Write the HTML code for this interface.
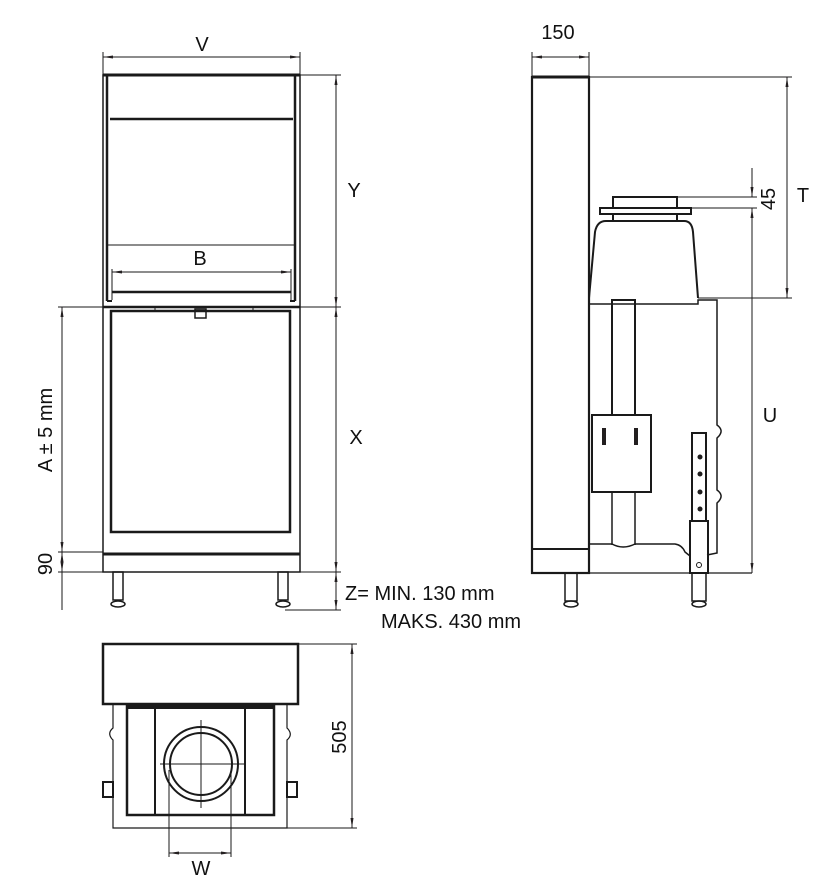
<!DOCTYPE html>
<html><head><meta charset="utf-8"><style>
html,body{margin:0;padding:0;background:#fff;}
svg{display:block;}
text{font-family:"Liberation Sans",sans-serif;fill:#111;}
</style></head><body>
<svg width="825" height="886" viewBox="0 0 825 886" xmlns="http://www.w3.org/2000/svg">
<defs>
<marker id="a" viewBox="0 0 10 6" refX="10" refY="3" markerWidth="10" markerHeight="6" orient="auto-start-reverse" markerUnits="userSpaceOnUse"><path d="M0,1.5 L10,3 L0,4.5z" fill="#231f20"/></marker>
</defs>
<g stroke="#1a1a1a" fill="none" stroke-width="1">
<!-- FRONT VIEW -->
<rect x="103" y="75" width="197" height="497" stroke-width="1.5"/>
<line x1="103" y1="75" x2="300" y2="75" stroke-width="3"/>
<line x1="107" y1="76" x2="107" y2="301" stroke-width="2.5"/>
<line x1="295" y1="76" x2="295" y2="301" stroke-width="2.5"/>
<line x1="107" y1="301" x2="112" y2="301" stroke-width="2"/>
<line x1="290" y1="301" x2="295" y2="301" stroke-width="2"/>
<line x1="110" y1="119" x2="293" y2="119" stroke-width="2.5"/>
<line x1="108" y1="245" x2="294" y2="245" stroke-width="1"/>
<line x1="112" y1="272" x2="291" y2="272" marker-start="url(#a)" marker-end="url(#a)"/>
<line x1="112" y1="269" x2="112" y2="300"/>
<line x1="291" y1="269" x2="291" y2="300"/>
<line x1="112" y1="292" x2="291" y2="292" stroke-width="2.5"/>
<line x1="103" y1="307" x2="300" y2="307" stroke-width="2.5"/>
<line x1="111" y1="311" x2="291" y2="311" stroke-width="1.5"/>
<line x1="155" y1="307" x2="155" y2="311"/>
<line x1="253" y1="307" x2="253" y2="311"/>
<rect x="195" y="309" width="11" height="9" stroke-width="1.5"/>
<rect x="111" y="311" width="179" height="221" stroke-width="2.5"/>
<line x1="103" y1="554" x2="300" y2="554" stroke-width="3"/>
<rect x="113" y="572" width="10" height="28" stroke-width="1.5"/>
<rect x="278" y="572" width="10" height="28" stroke-width="1.5"/>
<ellipse cx="118" cy="604" rx="7" ry="3" stroke-width="1.5"/>
<ellipse cx="283" cy="604" rx="7" ry="3" stroke-width="1.5"/>
<line x1="103" y1="52" x2="103" y2="75"/>
<line x1="300" y1="52" x2="300" y2="75"/>
<line x1="103" y1="57" x2="300" y2="57" marker-start="url(#a)" marker-end="url(#a)"/>
<line x1="300" y1="75" x2="341" y2="75"/>
<line x1="300" y1="307" x2="341" y2="307"/>
<line x1="300" y1="572" x2="341" y2="572"/>
<line x1="285" y1="610" x2="341" y2="610"/>
<line x1="336" y1="75" x2="336" y2="307" marker-start="url(#a)" marker-end="url(#a)"/>
<line x1="336" y1="307" x2="336" y2="572" marker-start="url(#a)" marker-end="url(#a)"/>
<line x1="336" y1="572" x2="336" y2="610" marker-start="url(#a)" marker-end="url(#a)"/>
<line x1="58" y1="307" x2="103" y2="307"/>
<line x1="58" y1="552" x2="103" y2="552"/>
<line x1="58" y1="572" x2="103" y2="572"/>
<line x1="62" y1="307" x2="62" y2="552" marker-start="url(#a)" marker-end="url(#a)"/>
<line x1="62" y1="552" x2="62" y2="572" marker-start="url(#a)" marker-end="url(#a)"/>
<line x1="62" y1="572" x2="62" y2="610"/>

<!-- SIDE VIEW -->
<rect x="532" y="77" width="57" height="496" stroke-width="2.2"/>
<line x1="532" y1="77" x2="589" y2="77" stroke-width="3"/>
<line x1="532" y1="549" x2="589" y2="549" stroke-width="2"/>
<line x1="532" y1="52" x2="532" y2="77"/>
<line x1="589" y1="52" x2="589" y2="77"/>
<line x1="532" y1="57" x2="589" y2="57" marker-start="url(#a)" marker-end="url(#a)"/>
<line x1="589" y1="77" x2="792" y2="77"/>
<line x1="787" y1="77" x2="787" y2="298" marker-start="url(#a)" marker-end="url(#a)"/>
<line x1="698" y1="298" x2="792" y2="298"/>
<rect x="613" y="197" width="64" height="11" stroke-width="2"/>
<rect x="600" y="208" width="91" height="6" stroke-width="2"/>
<rect x="613" y="214" width="64" height="7" stroke-width="2"/>
<line x1="677" y1="197" x2="757" y2="197"/>
<line x1="691" y1="208" x2="757" y2="208"/>
<line x1="752" y1="168" x2="752" y2="197" marker-end="url(#a)"/>
<line x1="752" y1="208" x2="752" y2="573" marker-start="url(#a)" marker-end="url(#a)"/>
<path d="M589,298 L595,232 Q597,221 606,221 L684,221 Q692,221 693,232 L698,298" stroke-width="2"/>
<path d="M589,304 L698,304 L698,300 L717,300 L717,425 Q724,430 719,436 L717,438 L717,490 Q724,495 719,501 L717,503 L717,553 L707,555" stroke-width="1.5"/>
<rect x="612" y="300" width="23" height="115" stroke-width="2"/>
<rect x="592" y="415" width="59" height="77" stroke-width="2"/>
<rect x="602" y="428" width="4" height="17" fill="#231f20" stroke="none"/>
<rect x="634" y="428" width="4" height="17" fill="#231f20" stroke="none"/>
<line x1="612" y1="492" x2="612" y2="545" stroke-width="1.5"/>
<line x1="635" y1="492" x2="635" y2="545" stroke-width="1.5"/>
<path d="M589,544 L612,544 Q623,550 635,544 L675,544 Q682,545 685,552 L690,556" stroke-width="1.5"/>
<rect x="692" y="433" width="14" height="88" stroke-width="2"/>
<circle cx="700" cy="457" r="2" fill="#231f20"/>
<circle cx="700" cy="474" r="2" fill="#231f20"/>
<circle cx="700" cy="492" r="2" fill="#231f20"/>
<circle cx="700" cy="509" r="2" fill="#231f20"/>
<rect x="690" y="521" width="18" height="52" stroke-width="2"/>
<circle cx="699" cy="565" r="2.5"/>
<line x1="589" y1="573" x2="752" y2="573" stroke-width="1.2"/>
<rect x="565" y="573" width="12" height="28" stroke-width="1.5"/>
<rect x="692" y="573" width="14" height="28" stroke-width="1.5"/>
<ellipse cx="571" cy="604" rx="7" ry="3" stroke-width="1.5"/>
<ellipse cx="699" cy="604" rx="7" ry="3" stroke-width="1.5"/>

<!-- PLAN VIEW -->
<rect x="103" y="644" width="195" height="60" stroke-width="2.5"/>
<path d="M113,704 L113,728 Q107,733 112,739 L113,740 L113,828 L287,828 L287,740 Q293,735 288,729 L287,728 L287,704" stroke-width="1.2"/>
<rect x="127" y="706" width="147" height="109" stroke-width="2.5"/>
<line x1="127" y1="707" x2="274" y2="707" stroke-width="4"/>
<line x1="155" y1="707" x2="155" y2="815" stroke-width="2"/>
<line x1="245" y1="707" x2="245" y2="815" stroke-width="2"/>
<circle cx="201" cy="764" r="37" stroke-width="2"/>
<circle cx="201" cy="764" r="31" stroke-width="2"/>
<line x1="160" y1="764" x2="244" y2="764"/>
<line x1="201" y1="720" x2="201" y2="808"/>
<rect x="103" y="782" width="10" height="15" stroke-width="2"/>
<rect x="287" y="782" width="10" height="15" stroke-width="2"/>
<line x1="169" y1="770" x2="169" y2="857"/>
<line x1="231" y1="770" x2="231" y2="857"/>
<line x1="169" y1="853" x2="231" y2="853" marker-start="url(#a)" marker-end="url(#a)"/>
<line x1="298" y1="644" x2="357" y2="644"/>
<line x1="287" y1="828" x2="357" y2="828"/>
<line x1="352" y1="644" x2="352" y2="828" marker-start="url(#a)" marker-end="url(#a)"/>
</g>
<g font-size="20">
<text x="202" y="51" text-anchor="middle">V</text>
<text x="200" y="265" text-anchor="middle">B</text>
<text x="354" y="197" text-anchor="middle">Y</text>
<text x="356" y="444" text-anchor="middle">X</text>
<text x="770" y="422" text-anchor="middle">U</text>
<text x="803" y="202" text-anchor="middle">T</text>
<text x="558" y="39" text-anchor="middle">150</text>
<text x="201" y="875" text-anchor="middle">W</text>
<text x="345" y="600">Z= MIN. 130 mm</text>
<text x="381" y="628">MAKS. 430 mm</text>
<text transform="translate(52,430) rotate(-90)" text-anchor="middle">A ± 5 mm</text>
<text transform="translate(52,564) rotate(-90)" text-anchor="middle">90</text>
<text transform="translate(346,737) rotate(-90)" text-anchor="middle">505</text>
<text transform="translate(775,199) rotate(-90)" text-anchor="middle">45</text>
</g>
</svg>
</body></html>
